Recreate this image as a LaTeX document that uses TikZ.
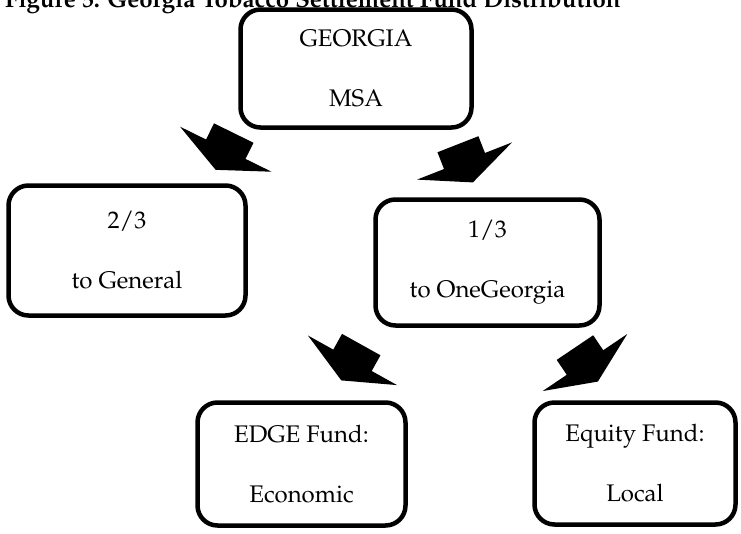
\documentclass[tikz,border=0pt]{standalone}
\usepackage[T1]{fontenc}
\usepackage{mathpazo}

\begin{document}
\begin{tikzpicture}[x=1pt,y=-1pt,
    box/.style={draw,line width=4.5pt,rounded corners=20pt,fill=white,
      align=center,inner sep=0pt,font=\fontsize{24}{60}\selectfont},
    blockarrow/.style={fill=black}]

        \useasboundingbox (0,0) rectangle (741,533);

        \begin{scope}[every node/.style={box}]
          \node[minimum width=231pt,minimum height=118pt] (msa)     at (356,68.5)  {GEORGIA\\MSA};
          \node[minimum width=237pt,minimum height=130pt] (general) at (127,250.5) {2/3\\to General};
          \node[minimum width=224pt,minimum height=126pt] (onega)   at (487.5,262.5) {1/3\\to OneGeorgia};
          \node[minimum width=208pt,minimum height=123pt] (edge)    at (301.5,464) {EDGE Fund:\\Economic};
          \node[minimum width=201pt,minimum height=122pt] (equity)  at (635,463.5) {Equity Fund:\\Local};
        \end{scope}

        \node[anchor=base west,inner sep=0pt,font=\bfseries\fontsize{24}{29}\selectfont]
          (title) at (5,7) {Figure 5: Georgia Tobacco Settlement Fund Distribution};

        % fat arrows between the boxes
        \coordinate (msa-general)  at (225.8,149.2);
        \coordinate (msa-onega)    at (464.5,161);
        \coordinate (onega-edge)   at (352.5,360.3);
        \coordinate (onega-equity) at (585,362.5);

        \foreach \at/\ang in {msa-general/243.8, msa-onega/291.4, onega-edge/240.9, onega-equity/304}
          \fill[blockarrow,shift={(\at)},rotate=\ang]
            (-18,-22) -- (0,-22) -- (0,-51) -- (23,0) -- (0,51) -- (0,22) -- (-18,22) -- cycle;

      \end{tikzpicture}
\end{document}
